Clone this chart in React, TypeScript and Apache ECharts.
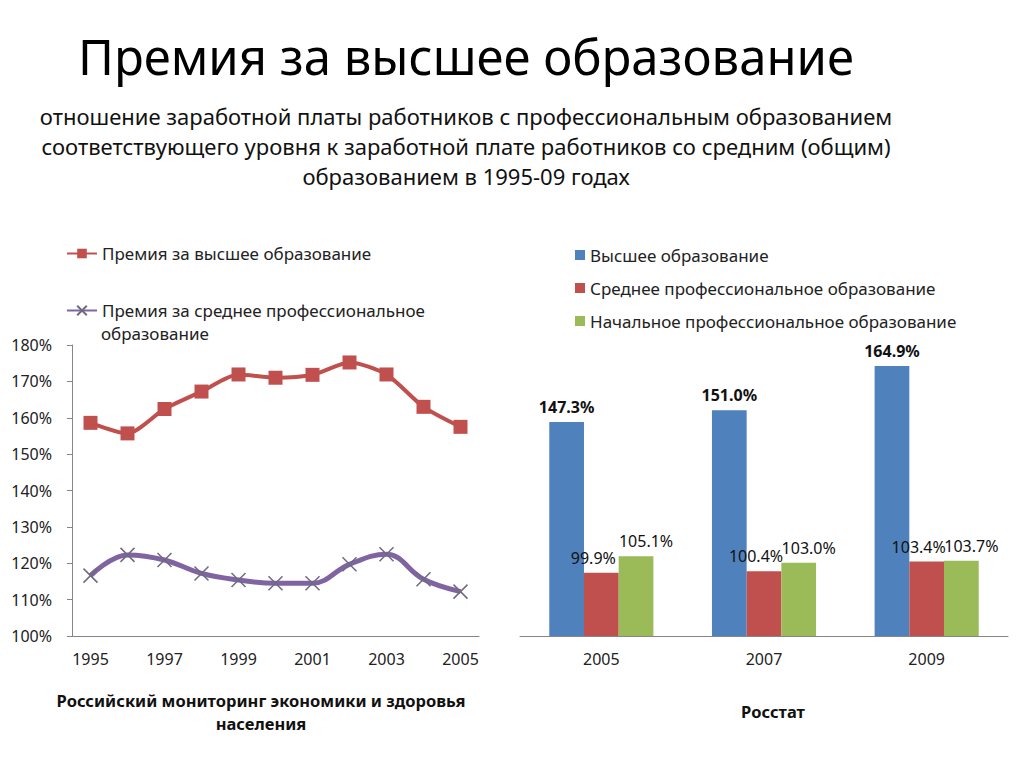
import React, { useEffect, useRef } from "react";
import * as echarts from "echarts";

const lineYears = ["1995","1996","1997","1998","1999","2000","2001","2002","2003","2004","2005"];
const higherPremium = [158.6,155.7,162.4,167.2,171.9,171.0,171.8,175.2,171.9,163.0,157.5];
const secondaryProfPremium = [116.6,122.3,120.9,117.2,115.4,114.5,114.5,119.7,122.5,115.6,112.2];
const lineYTicks = { min: 100, max: 180, interval: 10 };

const barYears = ["2005","2007","2009"];
const barHigher = [147.3,151.0,164.9];
const barSecondary = [99.9,100.4,103.4];
const barPrimary = [105.1,103.0,103.7];

const FONT = "Noto Sans";

export default function App() {
  const ref = useRef<HTMLDivElement>(null);
  useEffect(() => {
    const chart = echarts.init(ref.current!, null, { renderer: "svg" });
    const pct = (p: any) => Number(p.value).toFixed(1) + "%";
    chart.setOption({
      animation: false,
      backgroundColor: "#ffffff",
      textStyle: { fontFamily: FONT },
      title: [
        { text: "Премия за высшее образование", left: 461, top: 26, textAlign: "center",
          textStyle: { fontFamily: FONT, fontSize: 49, fontWeight: "normal", color: "#000" } },
        { text: "отношение заработной платы работников с профессиональным образованием\nсоответствующего уровня к заработной плате работников со средним (общим)\nобразованием в 1995-09 годах",
          left: 461, top: 96, textAlign: "center",
          textStyle: { fontFamily: FONT, fontSize: 22, fontWeight: "normal", color: "#111", lineHeight: 30, align: "center" } },
        { text: "Российский мониторинг экономики и здоровья\nнаселения", left: 256, top: 684, textAlign: "center",
          textStyle: { fontFamily: FONT, fontSize: 16.5, fontWeight: "bold", color: "#111", lineHeight: 23, align: "center" } },
        { text: "Росстат", left: 768, top: 698, textAlign: "center",
          textStyle: { fontFamily: FONT, fontSize: 16.5, fontWeight: "bold", color: "#111" } },
      ],
      legend: [
        { data: ["Премия за высшее образование"], left: 66, top: 245, padding: 0, itemWidth: 30, itemHeight: 12,
          textStyle: { fontFamily: FONT, fontSize: 17, color: "#222" } },
        { data: ["Премия за среднее профессиональное"], left: 66, top: 302, padding: 0, itemWidth: 30, itemHeight: 12,
          textStyle: { fontFamily: FONT, fontSize: 17, color: "#222" } },
        { data: ["Высшее образование","Среднее профессиональное образование","Начальное профессиональное образование"],
          orient: "vertical", left: 570, top: 240, itemWidth: 10, itemHeight: 10, itemGap: 13, icon: "rect",
          textStyle: { fontFamily: FONT, fontSize: 17, color: "#222", lineHeight: 20 } },
      ],
      graphic: [
        { type: "text", left: 101, top: 325, style: { text: "образование", fontFamily: FONT, fontSize: 17, fill: "#222" } },
      ],
      grid: [
        { left: 72, width: 407, top: 345, bottom: 132 },
        { left: 520, right: 16, top: 318, bottom: 132 },
      ],
      xAxis: [
        { type: "category", gridIndex: 0, data: lineYears, boundaryGap: true,
          axisLine: { lineStyle: { color: "#868686" } },
          axisTick: { interval: 0, length: 5, lineStyle: { color: "#868686" } },
          axisLabel: { interval: 1, fontFamily: FONT, fontSize: 16, color: "#222", margin: 15 } },
        { type: "category", gridIndex: 1, data: barYears,
          axisLine: { lineStyle: { color: "#868686" } },
          axisTick: { length: 5, lineStyle: { color: "#868686" } },
          axisLabel: { fontFamily: FONT, fontSize: 16, color: "#222", margin: 15 } },
      ],
      yAxis: [
        { type: "value", gridIndex: 0, min: lineYTicks.min, max: lineYTicks.max, interval: lineYTicks.interval,
          axisLine: { show: true, lineStyle: { color: "#868686" } },
          axisTick: { show: true, length: 5, lineStyle: { color: "#868686" } },
          splitLine: { show: false },
          axisLabel: { formatter: "{value}%", fontFamily: FONT, fontSize: 16, color: "#222", margin: 20 } },
        { type: "value", gridIndex: 1, min: 80, max: 180, show: false, splitLine: { show: false } },
      ],
      series: [
        { name: "Премия за высшее образование", type: "line", xAxisIndex: 0, yAxisIndex: 0,
          data: higherPremium, smooth: 0.25, symbol: "rect", symbolSize: 14,
          lineStyle: { color: "#C0504D", width: 4 }, itemStyle: { color: "#C0504D" } },
        { name: "Премия за среднее профессиональное", type: "line", xAxisIndex: 0, yAxisIndex: 0,
          data: secondaryProfPremium, smooth: 0.4, symbol: "path://M0,0L10,10M10,0L0,10", symbolSize: 14,
          lineStyle: { color: "#8064A2", width: 5 },
          itemStyle: { color: "#8064A2", borderColor: "#6f6a80", borderWidth: 1.5 } },
        { name: "Высшее образование", type: "bar", xAxisIndex: 1, yAxisIndex: 1, data: barHigher,
          barGap: "0%", barCategoryGap: "36%", itemStyle: { color: "#4F81BD" },
          label: { show: true, position: "top", distance: 7, formatter: pct, fontFamily: FONT, fontSize: 16, fontWeight: "bold", color: "#111" } },
        { name: "Среднее профессиональное образование", type: "bar", xAxisIndex: 1, yAxisIndex: 1, data: barSecondary,
          itemStyle: { color: "#C0504D" },
          label: { show: true, position: "top", distance: 7, offset: [-8, 0], formatter: pct, fontFamily: FONT, fontSize: 16, color: "#111" } },
        { name: "Начальное профессиональное образование", type: "bar", xAxisIndex: 1, yAxisIndex: 1, data: barPrimary,
          itemStyle: { color: "#9BBB59" },
          label: { show: true, position: "top", distance: 7, offset: [10, 0], formatter: pct, fontFamily: FONT, fontSize: 16, color: "#111" } },
      ],
    });
    return () => chart.dispose();
  }, []);
  return <div ref={ref} style={{ position: "absolute", left: 0, top: 0, width: 1024, height: 768 }} />;
}
